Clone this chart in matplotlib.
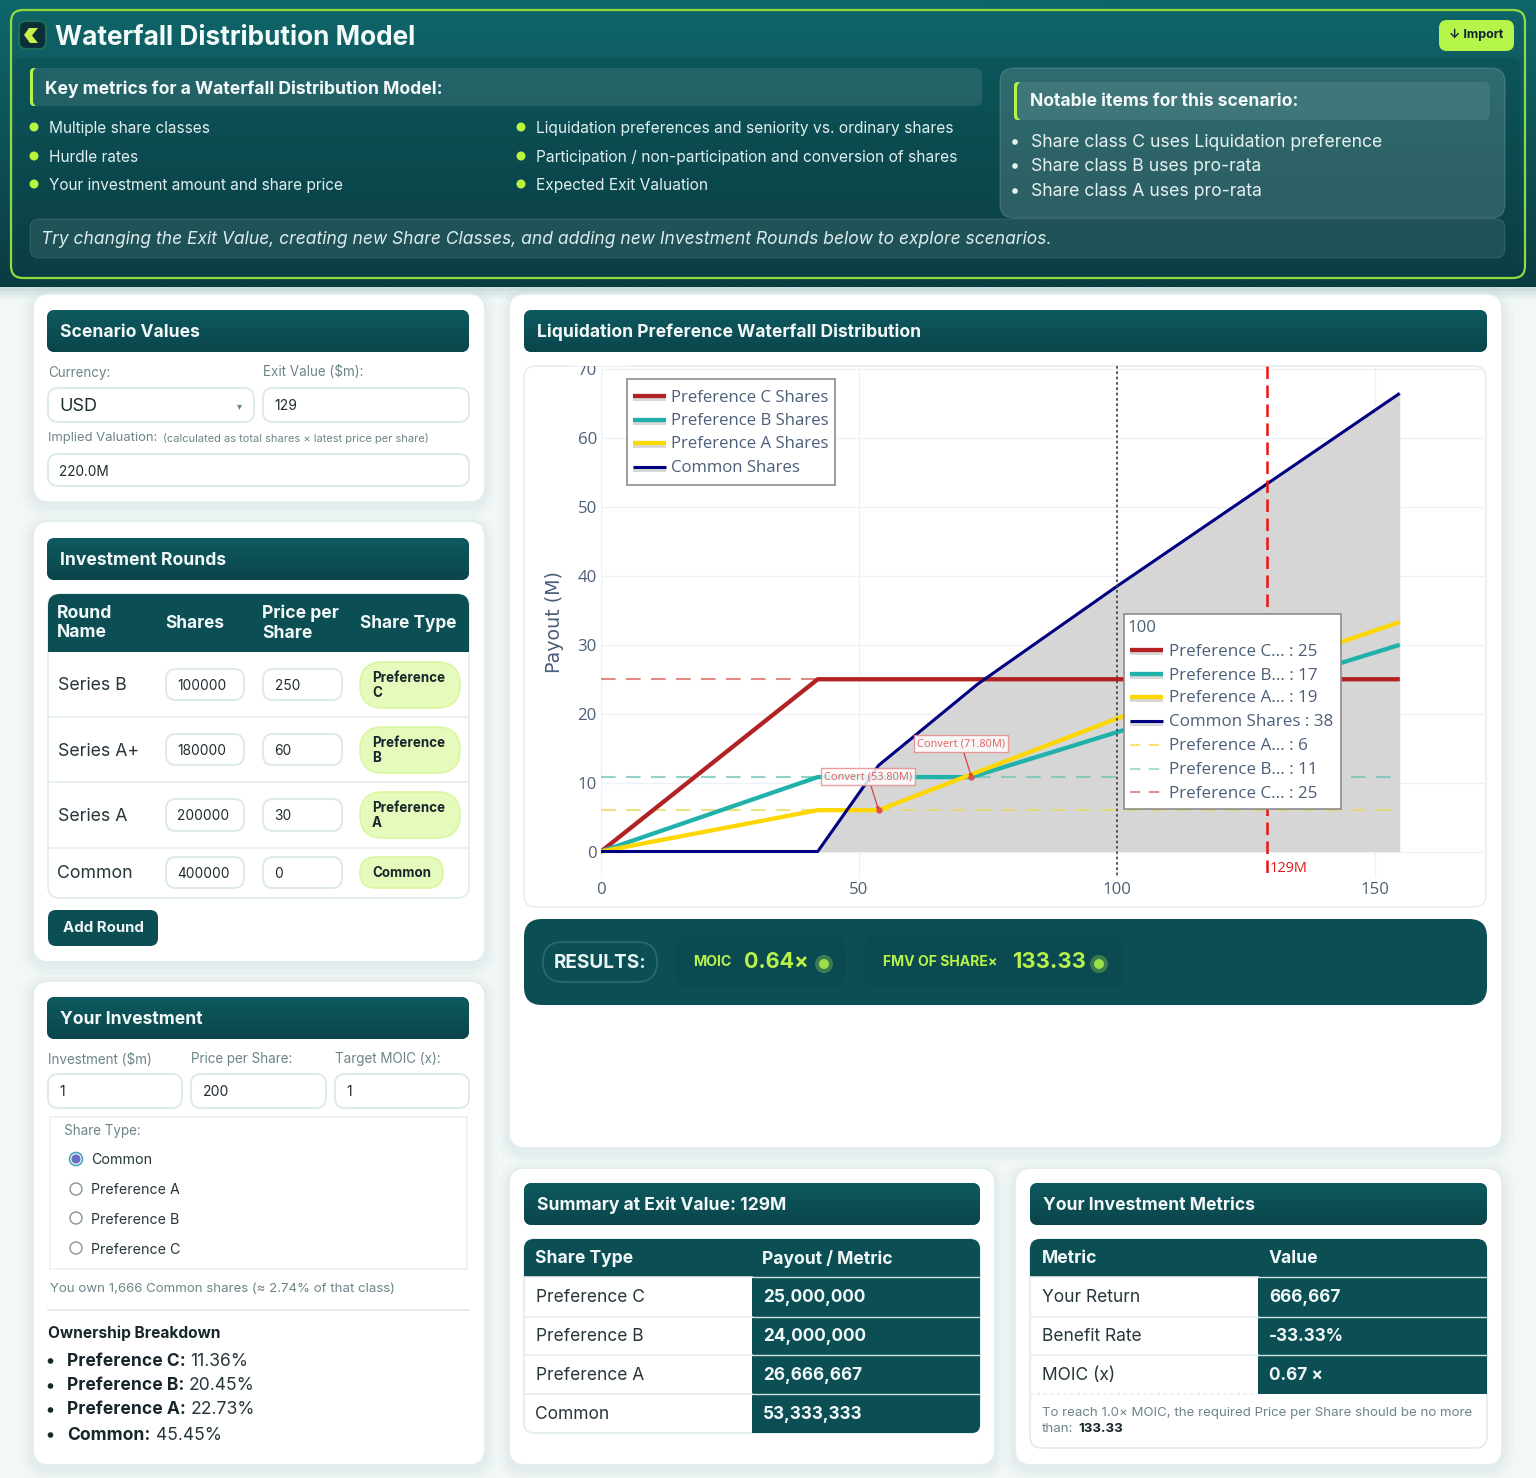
import numpy as np
import matplotlib
matplotlib.use("Agg")
import matplotlib.pyplot as plt
from matplotlib.patches import FancyBboxPatch, Circle, Rectangle, Polygon

W, H = 1536, 1478
TEAL = "#0b4f55"
LIME = "#b5f54a"
INK = "#1f2d30"
GREY = "#6d8589"

# ---------- chart data ----------
exit_c = [0, 42, 154.8]
pay_c = [0, 25, 25]
exit_b = [0, 42, 71.8, 154.8]
pay_b = [0, 10.8, 10.8, 30]
exit_a = [0, 42, 53.8, 71.8, 100, 154.8]
pay_a = [0, 6, 6, 11.2, 19.3, 33.3]
exit_common = [0, 42, 53.8, 73, 100, 154.8]
pay_common = [0, 0, 12.5, 24.3, 38.5, 66.5]
hurdle_vals = [25, 10.8, 6]
hurdle_cols = ["#d9605f", "#6fc5b5", "#e8d95a"]
hurdle_end = 154.8
line_cols = ["#b22222", "#20b2aa", "#ffd700", "#000080"]
legend_labels = ["Preference C Shares", "Preference B Shares", "Preference A Shares", "Common Shares"]
hover_title = "100"
hover_labels = ["Preference C... : 25", "Preference B... : 17", "Preference A... : 19", "Common Shares : 38",
                "Preference A... : 6", "Preference B... : 11", "Preference C... : 25"]
hover_cols = line_cols + ["#f5e27a", "#a8dccf", "#e58f8e"]
x_ticks = [0, 50, 100, 150]
y_ticks = [0, 10, 20, 30, 40, 50, 60, 70]
exit_line = 129
hover_line = 100
conversions = [(53.8, 6, "Convert (53.80M)"), (71.8, 10.8, "Convert (71.80M)")]

# ---------- page content ----------
key_left = ["Multiple share classes", "Hurdle rates", "Your investment amount and share price"]
key_right = ["Liquidation preferences and seniority vs. ordinary shares",
             "Participation / non-participation and conversion of shares", "Expected Exit Valuation"]
notable = ["Share class C uses Liquidation preference", "Share class B uses pro-rata", "Share class A uses pro-rata"]
round_names = ["Series B", "Series A+", "Series A", "Common"]
round_shares = ["100000", "180000", "200000", "400000"]
round_prices = ["250", "60", "30", "0"]
round_types = ["Preference\nC", "Preference\nB", "Preference\nA", "Common"]
radio_labels = ["Common", "Preference A", "Preference B", "Preference C"]
own_names = ["Preference C:", "Preference B:", "Preference A:", "Common:"]
own_vals = ["11.36%", "20.45%", "22.73%", "45.45%"]
sum_types = ["Preference C", "Preference B", "Preference A", "Common"]
sum_vals = ["25,000,000", "24,000,000", "26,666,667", "53,333,333"]
met_names = ["Your Return", "Benefit Rate", "MOIC (x)"]
met_vals = ["666,667", "-33.33%", "0.67 ×"]

fig = plt.figure(figsize=(W / 100, H / 100), dpi=100, facecolor="#f2f7f7")
plt.rcParams["font.family"] = ["Inter", "DejaVu Sans"]


def layer(z):
    a = fig.add_axes([0, 0, 1, 1], zorder=z)
    a.set_xlim(0, W)
    a.set_ylim(H, 0)
    a.autoscale(False)
    a.axis("off")
    a.patch.set_alpha(0)
    return a


bg = layer(0)
fg = layer(2)


def box(a, x0, y0, x1, y1, r=8, fc="white", ec="none", lw=1.0, alpha=None, z=2):
    p = FancyBboxPatch((x0 + r, y0 + r), x1 - x0 - 2 * r, y1 - y0 - 2 * r,
                       boxstyle=f"round,pad={r},rounding_size={r}", fc=fc, ec=ec, lw=lw, alpha=alpha, zorder=z)
    a.add_patch(p)
    return p


def txt(a, x, y, s, px=15, weight="normal", color=INK, ha="left", va="center", style="normal", z=5, family=None, ls=1.1, **k):
    return a.text(x, y + 1.5, s, fontsize=px * 0.72, fontweight=weight, color=color, ha=ha, va=va, style=style,
                  zorder=z, family=family or ["Inter", "DejaVu Sans"], linespacing=ls, **k)


def panel(x0, y0, x1, y1):
    for i, al in zip([12, 8, 4], [0.012, 0.018, 0.025]):
        box(bg, x0 - i, y0 - i + 4, x1 + i, y1 + i + 4, r=18 + i, fc="#0b4f55", alpha=al, z=1)
    box(bg, x0, y0, x1, y1, r=16, fc="white", ec="#e2ecec", lw=1.2)


def gradient(c_top, c_bot):
    t = np.linspace(0, 1, 64)[:, None, None]
    a, b = np.array(matplotlib.colors.to_rgb(c_top)), np.array(matplotlib.colors.to_rgb(c_bot))
    return a[None, None, :] * (1 - t) + b[None, None, :] * t


def head(x0, y0, x1, y1, s):
    p = box(bg, x0, y0, x1, y1, r=8, fc=TEAL)
    im = bg.imshow(gradient("#0e5a60", "#0a454b"), extent=[x0, x1, y1, y0], aspect="auto", zorder=2.05, interpolation="bilinear")
    im.set_clip_path(p)
    txt(bg, x0 + 13, (y0 + y1) / 2, s, px=17.5, weight="bold", color="#f2f8f8")


def field(x0, y0, x1, y1, s, r=10, px=14):
    box(bg, x0, y0, x1, y1, r=r, fc="white", ec="#dcebe4", lw=1.4)
    txt(bg, x0 + 11.5, (y0 + y1) / 2, s, px=px, color=INK)


# ---------- header ----------
bg.imshow(gradient("#0f666a", "#0a3c42"), extent=[0, W, 287, 0], aspect="auto", zorder=0.5, interpolation="bilinear")
for i, al in zip([12, 8, 4], [0.04, 0.05, 0.06]):
    bg.add_patch(Rectangle((0, 287), W, i, fc="#0b4f55", alpha=al, ec="none", zorder=0.6))
box(bg, 11, 10, 1525, 278, r=12, fc="none", ec="#8fdc3c", lw=1.6, z=3)
box(bg, 14, 58, 1520, 268, r=8, fc="#093f45", ec="#14595e", alpha=0.25, lw=0.8, z=1.5)
box(bg, 19, 21, 46, 49, r=7, fc="#0a2f36", ec="#1d6d5c", lw=1.5, z=3)
bg.add_patch(Polygon([[38, 28], [29, 28], [24, 35], [30, 43], [38, 43], [32, 35.5]], closed=True, fc="#c9f04a", ec="none", zorder=4))
txt(bg, 55, 36.5, "Waterfall Distribution Model", px=26.2, weight="bold", color="#f2fafa")
box(bg, 1439, 20, 1514, 51, r=8, fc=LIME)
txt(bg, 1476, 33, "↓ Import", px=12.5, weight="bold", color="#123", ha="center")

box(bg, 30, 68, 982, 106, r=7, fc="#ffffff", alpha=0.10, z=2)
box(bg, 30, 68, 38, 106, r=4, fc=LIME, z=2.1)
box(bg, 33, 68, 46, 106, r=5, fc="#1f6268", z=2.2)
txt(bg, 45, 87.5, "Key metrics for a Waterfall Distribution Model:", px=17.5, weight="bold", color="#f4fafa")
for y, a_, b_ in zip([127, 156, 184], key_left, key_right):
    bg.add_patch(Circle((34, y), 4.5, fc="#b9f53f", zorder=4))
    bg.add_patch(Circle((521, y), 4.5, fc="#b9f53f", zorder=4))
    txt(bg, 49, y, a_, px=15.4, color="#e2efef")
    txt(bg, 536, y, b_, px=15.5, color="#e2efef")

box(bg, 1000, 68, 1505, 218, r=14, fc="#ffffff", ec="#ffffff", alpha=0.14, lw=1, z=2)
box(bg, 1014, 82, 1022, 120, r=4, fc=LIME, z=2.1)
box(bg, 1017, 82, 1490, 120, r=6, fc="#3f767a", z=2.2)
txt(bg, 1030, 100, "Notable items for this scenario:", px=17.5, weight="bold", color="#f4fafa")
for y, s in zip([141, 165, 190], notable):
    bg.add_patch(Circle((1015, y + 1), 2.8, fc="#e8f3f3", zorder=4))
    txt(bg, 1031, y, s, px=17.6, color="#e6f1f1")
box(bg, 30, 219, 1505, 258, r=9, fc="#ffffff", ec="#ffffff", alpha=0.09, lw=1, z=2)
txt(bg, 41, 238, "Try changing the Exit Value, creating new Share Classes, and adding new Investment Rounds below to explore scenarios.",
    px=17.45, style="italic", color="#dcecec")

# ---------- scenario values ----------
panel(33, 294, 485, 502)
head(47, 310, 469, 352, "Scenario Values")
txt(bg, 48, 371, "Currency:", px=13.5, color=GREY)
txt(bg, 263, 371, "Exit Value ($m):", px=13.5, color=GREY)
field(48, 388, 254, 422, "USD", px=18)
txt(bg, 239, 405, "▾", px=10, color=GREY, ha="center")
field(263, 388, 469, 422, "129", px=14)
txt(bg, 48, 437, "Implied Valuation:", px=13, color=GREY)
txt(bg, 163, 437, "(calculated as total shares × latest price per share)", px=11.1, color=GREY)
field(48, 454, 469, 486, "220.0M", px=13.6)

# ---------- investment rounds ----------
panel(33, 521, 485, 962)
head(47, 538, 469, 580, "Investment Rounds")
box(bg, 48, 594, 469, 898, r=12, fc="white", ec="#e2ecec", lw=1.2)
box(bg, 48, 594, 469, 640, r=12, fc=TEAL)
bg.add_patch(Rectangle((48, 612), 421, 40, fc=TEAL, ec="none", zorder=2.1))
txt(bg, 57, 621.5, "Round\nName", px=17.5, weight="bold", color="#f2f8f8", z=5, ls=1.2)
txt(bg, 165, 621.5, "Shares", px=17.2, weight="bold", color="#f2f8f8")
txt(bg, 262, 621.5, "Price per\nShare", px=17.5, weight="bold", color="#f2f8f8", ls=1.2)
txt(bg, 360, 621.5, "Share Type", px=17.2, weight="bold", color="#f2f8f8")
row_y = [(669, 700), (734, 765), (799, 831), (857, 888)]
pill_y = [(662, 708), (727, 773), (792, 838), (857, 888)]
for y in [717, 782, 848]:
    bg.plot([48, 469], [y, y], color="#e6eeee", lw=1.2, zorder=3)
for (y0, y1), (p0, p1), n, sh, pr, ty in zip(row_y, pill_y, round_names, round_shares, round_prices, round_types):
    ym = (y0 + y1) / 2
    txt(bg, 57.5, ym, n, px=17.7, color="#26363a")
    field(166, y0, 244, y1, sh, px=13.7)
    field(263, y0, 342, y1, pr, px=13.7)
    x1 = 443 if ty == "Common" else 460
    box(bg, 360, p0, x1, p1, r=(p1 - p0) / 2 - 0.1, fc="#e6fbbb", ec="#d8f7a0", lw=1.2)
    txt(bg, 372, (p0 + p1) / 2 - 1, ty, px=13.4, weight="bold", color="#16262a", ls=1.1)
box(bg, 48, 910, 158, 946, r=8, fc=TEAL)
txt(bg, 103, 926.5, "Add Round", px=15, weight="bold", color="#f2f8f8", ha="center")

# ---------- your investment ----------
panel(33, 981, 485, 1465)
head(47, 997, 469, 1039, "Your Investment")
for x, s in zip([48, 191, 335], ["Investment ($m)", "Price per Share:", "Target MOIC (x):"]):
    txt(bg, x, 1058, s, px=13.5, color=GREY)
for (a_, b_), s in zip([(48, 182), (191, 326), (335, 469)], ["1", "200", "1"]):
    field(a_, 1074, b_, 1108, s, px=14)
bg.add_patch(Rectangle((50, 1117), 417, 152, fc="none", ec="#ecf1f1", lw=1.2, zorder=3))
txt(bg, 64, 1130, "Share Type:", px=13.5, color=GREY)
for i, (y, s) in enumerate(zip([1159, 1189, 1218, 1248], radio_labels)):
    if i == 0:
        bg.add_patch(Circle((76, y), 6.5, fc="white", ec="#46a6b8", lw=1.2, zorder=4))
        bg.add_patch(Circle((76, y), 4.6, fc="#6a6fc4", ec="none", zorder=5))
    else:
        bg.add_patch(Circle((76, y), 6, fc="white", ec="#8a9496", lw=1, zorder=4))
    txt(bg, 91, y, s, px=14.2, color="#26363a")
txt(bg, 50, 1287, "You own 1,666 Common shares (≈ 2.74% of that class)", px=13.25, color=GREY)
bg.plot([48, 469], [1310, 1310], color="#dfe7e7", lw=1.2, zorder=3)
txt(bg, 48, 1332, "Ownership Breakdown", px=15.5, weight="bold", color="#16262a")
for y, n, v, vx in zip([1361, 1386, 1410, 1435], own_names, own_vals, [190, 189, 191, 156]):
    bg.add_patch(Circle((50.5, y), 2.8, fc="#16262a", zorder=4))
    txt(bg, 67, y - 1.5, n, px=17.5, weight="bold", color="#16262a")
    txt(bg, vx, y - 1.5, v, px=17.5, color="#26363a")

# ---------- chart panel ----------
panel(509, 294, 1502, 1148)
head(524, 310, 1487, 352, "Liquidation Preference Waterfall Distribution")
box(bg, 524, 366, 1486, 907, r=12, fc="white", ec="#e6eeee", lw=1.2)

AX_L, AX_R, AX_T, AX_B = 601, 1486, 366, 878
ax = fig.add_axes([AX_L / W, 1 - AX_B / H, (AX_R - AX_L) / W, (AX_B - AX_T) / H], zorder=1)
ax.patch.set_alpha(0)
PX_X, PX_Y = 5.16, 6.89
ax.set_xlim(0, (AX_R - AX_L) / PX_X)
ax.set_ylim((851.5 - AX_B) / PX_Y, (851.5 - AX_T) / PX_Y)
for s in ax.spines.values():
    s.set_visible(False)
ax.set_xticks(x_ticks)
ax.set_yticks(y_ticks)
ax.grid(True, color="#edf1f8", lw=1)
ax.set_axisbelow(True)
ax.tick_params(length=0, labelsize=16.8 * 0.72, labelcolor="#4c5f78", pad=3)
for l in ax.get_xticklabels() + ax.get_yticklabels():
    l.set_family("Open Sans")
ax.set_ylabel("Payout (M)", fontsize=19 * 0.72, color="#4c5f78", family="DejaVu Sans", labelpad=10)

ax.fill_between(exit_common, pay_common, 0, color="#d6d6d6", lw=0, zorder=1)
for v, c in zip(hurdle_vals, hurdle_cols):
    ax.plot([0, hurdle_end], [v, v], color=c, lw=1.5, ls=(0, (7, 5)), alpha=0.75, zorder=1.5)
for xs, ys, c, lw in zip([exit_c, exit_b, exit_a, exit_common], [pay_c, pay_b, pay_a, pay_common], line_cols, [3.1, 3.1, 3.1, 2.2]):
    ax.plot(xs, ys, color=c, lw=lw, zorder=2, solid_joinstyle="round", solid_capstyle="butt")
y_lo, y_hi = ax.get_ylim()
ax.plot([hover_line] * 2, [y_hi, y_lo], color="#444444", lw=1.2, ls=(0, (1.6, 1.6)), zorder=3)
ax.plot([exit_line] * 2, [y_hi, y_lo], color="#ee1111", lw=1.8, ls=(0, (5, 2.6)), zorder=3)
ax.text(exit_line + 0.6, -2.5, "129M", color="#e01818", fontsize=14.5 * 0.72, family="Open Sans", va="center", zorder=4)
for xv, yv, s in conversions:
    ax.plot([xv], [yv], "o", ms=3.5, color="#e05050", zorder=5)
    ax.annotate(s, xy=(xv, yv), xytext=(-10.5, 33.5), textcoords="offset pixels", ha="center", va="center",
                fontsize=11 * 0.72, color="#e06060", family="Open Sans", zorder=6,
                bbox=dict(boxstyle="square,pad=0.3", fc="#ffffff", ec="#e88a8a", lw=1, alpha=0.85),
                arrowprops=dict(arrowstyle="-|>,head_length=0.2,head_width=0.12", color="#d84040", lw=0.9, shrinkA=0, shrinkB=0))

# hide the clipped top of the "70" label
fg.add_patch(Rectangle((570, 355), 60, 10.5, fc="white", ec="none", zorder=1))


def sample(a, x0, x1, y, c, dashed=False, lw=3.1):
    if dashed:
        a.plot([x0, x1], [y, y], color=c, lw=1.5, ls=(0, (5, 4)), zorder=7)
    else:
        a.add_patch(Rectangle((x0, y), x1 - x0, 5, fc="#d8d8d8", ec="none", zorder=6))
        a.plot([x0, x1], [y, y], color=c, lw=lw, zorder=7, solid_capstyle="butt")


# legend
fg.add_patch(Rectangle((627, 379), 208, 106, fc="white", ec="#8c8c8c", lw=1.2, zorder=5))
for y, c, s, lw in zip([396, 419.5, 443, 466.5], line_cols, legend_labels, [3.1, 3.1, 3.1, 2.2]):
    sample(fg, 633, 666, y, c, lw=lw)
    txt(fg, 671, y, s, px=16.8, color="#4c5f78", family="Open Sans", z=7)
# hover box
fg.add_patch(Rectangle((1124, 614), 217, 195, fc="white", ec="#8c8c8c", lw=1.2, zorder=5))
txt(fg, 1127, 627, hover_title, px=16.8, color="#4c5f78", family="Open Sans", z=7)
for i, (y, c, s) in enumerate(zip([650, 674, 697, 721, 745, 769, 792], hover_cols, hover_labels)):
    sample(fg, 1130, 1163, y, c, dashed=i > 3, lw=2.2 if i == 3 else 3.1)
    txt(fg, 1169, y, s, px=17, color="#4c5f78", family="Open Sans", z=7)

# ---------- results ----------
for i, al in zip([14, 9, 4], [0.02, 0.03, 0.04]):
    box(bg, 524 - i, 919 - i + 8, 1487 + i, 1005 + i + 8, r=20 + i, fc="#0b4f55", alpha=al, z=1.5)
box(bg, 524, 919, 1487, 1005, r=18, fc=TEAL)
box(bg, 543, 942, 657, 982, r=20, fc="none", ec="#2b6b70", lw=1.2)
txt(bg, 600, 961, "RESULTS:", px=19, weight="bold", color="#eaf4f4", ha="center")
box(bg, 675, 935, 846, 988, r=16, fc="#0a4a50")
box(bg, 863, 935, 1124, 988, r=16, fc="#0a4a50")
txt(bg, 693, 960.5, "MOIC", px=14.2, weight="bold", color="#b8f14a")
txt(bg, 744, 961, "0.64×", px=21.5, weight="bold", color="#b8f14a")
txt(bg, 883, 960.5, "FMV OF SHARE×", px=14, weight="bold", color="#b8f14a")
txt(bg, 1012, 961, "133.33", px=22, weight="bold", color="#b8f14a")
for x in [824, 1099]:
    bg.add_patch(Circle((x, 964), 9, fc="#3c7a52", zorder=4))
    bg.add_patch(Circle((x, 964), 5, fc="#9be04a", zorder=5))

# ---------- summary ----------
panel(509, 1168, 995, 1465)
head(524, 1183, 980, 1225, "Summary at Exit Value: 129M")
box(bg, 524, 1239, 980, 1433, r=10, fc="white", ec="#e2ecec", lw=1.2)
box(bg, 524, 1239, 980, 1277, r=10, fc=TEAL)
bg.add_patch(Rectangle((524, 1255), 456, 22, fc=TEAL, ec="none", zorder=2.1))
box(bg, 752, 1277, 980, 1433, r=8, fc=TEAL)
bg.add_patch(Rectangle((752, 1277), 228, 20, fc=TEAL, ec="none", zorder=2.1))
bg.add_patch(Rectangle((752, 1277), 20, 156, fc=TEAL, ec="none", zorder=2.1))
txt(bg, 535, 1257, "Share Type", px=17.5, weight="bold", color="#f2f8f8")
txt(bg, 762.5, 1257, "Payout / Metric", px=17.5, weight="bold", color="#f2f8f8")
for y, s, v in zip([1295.5, 1335, 1373.5, 1413], sum_types, sum_vals):
    txt(bg, 535.5, y, s, px=17.4, color="#26363a")
    txt(bg, 763, y, v, px=17.2, weight="bold", color="#f2f8f8")
for y in [1277, 1317, 1355, 1394]:
    bg.plot([524, 752], [y, y], color="#e6eeee", lw=1.2, zorder=3)
    bg.plot([752, 980], [y, y], color="#cfe3e3", lw=1.0, zorder=3)

# ---------- metrics ----------
panel(1015, 1168, 1502, 1465)
head(1030, 1183, 1487, 1225, "Your Investment Metrics")
box(bg, 1030, 1239, 1487, 1448, r=12, fc="white", ec="#e2ecec", lw=1.2)
box(bg, 1030, 1239, 1487, 1277, r=10, fc=TEAL)
bg.add_patch(Rectangle((1030, 1255), 457, 22, fc=TEAL, ec="none", zorder=2.1))
bg.add_patch(Rectangle((1258, 1277), 229, 117, fc=TEAL, ec="none", zorder=2.1))
txt(bg, 1042, 1257, "Metric", px=17.5, weight="bold", color="#f2f8f8")
txt(bg, 1269, 1257, "Value", px=17.5, weight="bold", color="#f2f8f8")
for y, s, v in zip([1295.5, 1335, 1373.5], met_names, met_vals):
    txt(bg, 1042, y, s, px=17.4, color="#26363a")
    txt(bg, 1269, y, v, px=17.2, weight="bold", color="#f2f8f8")
for y in [1277, 1317, 1355]:
    bg.plot([1030, 1258], [y, y], color="#e6eeee", lw=1.2, zorder=3)
    bg.plot([1258, 1487], [y, y], color="#cfe3e3", lw=1.0, zorder=3)
bg.plot([1030, 1258], [1394, 1394], color="#e6eeee", lw=1.2, ls=(0, (2, 2)), zorder=3)
txt(bg, 1042, 1411.5, "To reach 1.0× MOIC, the required Price per Share should be no more", px=13.3, color=GREY)
txt(bg, 1042, 1427, "than:", px=13.3, color=GREY)
txt(bg, 1078, 1427, "133.33", px=13.3, weight="bold", color="#16262a")

fig.savefig("out.png", dpi=100, facecolor=fig.get_facecolor())
